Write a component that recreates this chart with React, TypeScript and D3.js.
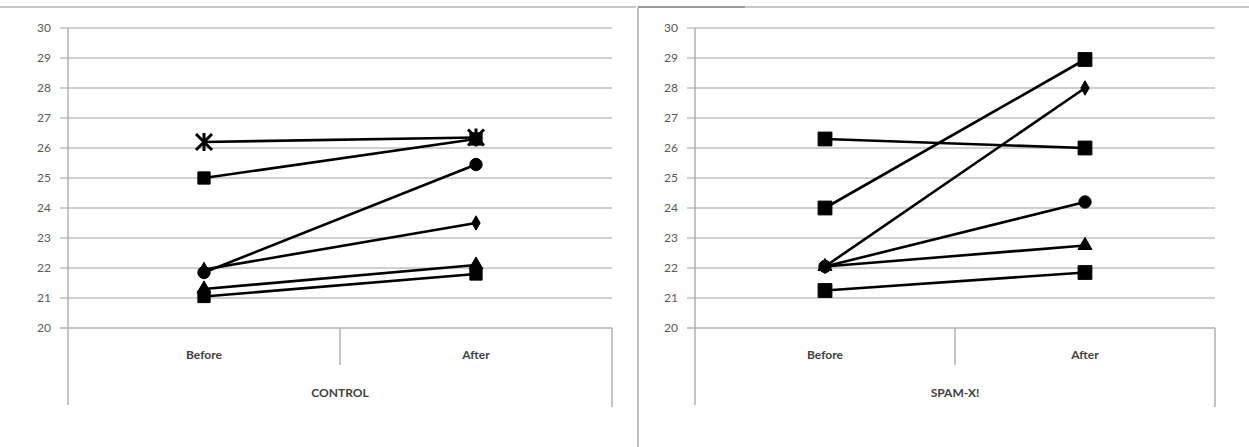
import React, { useEffect } from "react";
import * as d3 from "d3";

const categories = ["Before", "After"];
const yTicks = [20, 21, 22, 23, 24, 25, 26, 27, 28, 29, 30];

// CONTROL panel series
const controlMarkers = ["square", "circle", "diamond", "triangle", "square", "star"];
const controlBefore = [25.0, 21.85, 21.95, 21.3, 21.05, 26.2];
const controlAfter = [26.3, 25.45, 23.5, 22.1, 21.8, 26.35];

// SPAM-X! panel series
const spamMarkers = ["square", "square", "diamond", "circle", "triangle", "square"];
const spamBefore = [26.3, 24.0, 22.05, 22.05, 22.05, 21.25];
const spamAfter = [26.0, 28.95, 28.0, 24.2, 22.75, 21.85];

const panels = [
  { title: "CONTROL", markers: controlMarkers, before: controlBefore, after: controlAfter, left: 68, right: 612, labelX: 51, sq: 150 },
  { title: "SPAM-X!", markers: spamMarkers, before: spamBefore, after: spamAfter, left: 695, right: 1215, labelX: 678, sq: 190 },
];

const FONT = "Lato, 'Open Sans', sans-serif";

function markerPath(kind: string, sq: number): string {
  if (kind === "star") {
    const r = 8;
    return `M${-r},${-r}L${r},${r}M${-r},${r}L${r},${-r}M0,${-r - 1}L0,${r + 1}`;
  }
  const map: Record<string, [d3.SymbolType, number]> = {
    square: [d3.symbolSquare, sq],
    circle: [d3.symbolCircle, 120],
    diamond: [d3.symbolDiamond, 60],
    triangle: [d3.symbolTriangle, 85],
  };
  const [t, s] = map[kind];
  return d3.symbol().type(t).size(s)() as string;
}

function Panel({ p }: { p: (typeof panels)[number] }) {
  const top = 28;
  const bottom = 328;
  const y = d3.scaleLinear().domain([20, 30]).range([bottom, top]);
  const x = d3.scaleBand().domain(categories).range([p.left, p.right]).padding(0);
  const cx = (c: string) => (x(c) as number) + x.bandwidth() / 2;
  const mid = p.left + (p.right - p.left) / 2;
  const line = d3
    .line<[string, number]>()
    .x((d) => cx(d[0]))
    .y((d) => y(d[1]));
  return (
    <g>
      {yTicks.map((t) => (
        <g key={t}>
          {t > 20 && (
            <line x1={p.left - 8} x2={p.right} y1={y(t)} y2={y(t)} stroke="#d0d0d0" strokeWidth={2.2} />
          )}
          <text x={p.labelX} y={y(t)} dy="0.35em" textAnchor="end" fontSize={12} fill="#595959" fontFamily={FONT}>
            {t}
          </text>
        </g>
      ))}
      {/* axes */}
      <line x1={p.left} x2={p.left} y1={top} y2={405} stroke="#b0b0b0" strokeWidth={1.5} />
      <line x1={p.left - 8} x2={p.right} y1={bottom} y2={bottom} stroke="#b0b0b0" strokeWidth={1.5} />
      <line x1={mid} x2={mid} y1={bottom} y2={365} stroke="#b0b0b0" strokeWidth={1.5} />
      <line x1={p.right} x2={p.right} y1={bottom} y2={407} stroke="#b0b0b0" strokeWidth={1.5} />
      {categories.map((c) => (
        <text key={c} x={cx(c)} y={355} dy="0.35em" textAnchor="middle" fontSize={12} fontWeight="bold" fill="#404040" fontFamily={FONT}>
          {c}
        </text>
      ))}
      <text x={mid} y={393} dy="0.35em" textAnchor="middle" fontSize={12} fontWeight="bold" fill="#404040" fontFamily={FONT}>
        {p.title}
      </text>
      {p.markers.map((m, i) => {
        const pts: [string, number][] = [
          [categories[0], p.before[i]],
          [categories[1], p.after[i]],
        ];
        return (
          <g key={i}>
            <path d={line(pts) as string} fill="none" stroke="#000" strokeWidth={2.6} />
            {pts.map((pt, j) => (
              <path
                key={j}
                d={markerPath(m, p.sq)}
                transform={`translate(${cx(pt[0])},${y(pt[1])})`}
                fill="#000"
                stroke="#000"
                strokeWidth={m === "star" ? 3 : 1}
              />
            ))}
          </g>
        );
      })}
    </g>
  );
}

export default function App() {
  useEffect(() => {
    document.body.style.margin = "0";
  }, []);
  return (
    <svg width={1249} height={447} style={{ display: "block", background: "#fff" }}>
      {/* frame lines */}
      <line x1={0} x2={636} y1={7} y2={7} stroke="#c8c8c8" strokeWidth={2} />
      <line x1={638} x2={1249} y1={7} y2={7} stroke="#c8c8c8" strokeWidth={2} />
      <line x1={638} x2={745} y1={7} y2={7} stroke="#9a9a9a" strokeWidth={2} />
      <line x1={638} x2={638} y1={7} y2={447} stroke="#bdbdbd" strokeWidth={2} />
      {panels.map((p) => (
        <Panel key={p.title} p={p} />
      ))}
    </svg>
  );
}
